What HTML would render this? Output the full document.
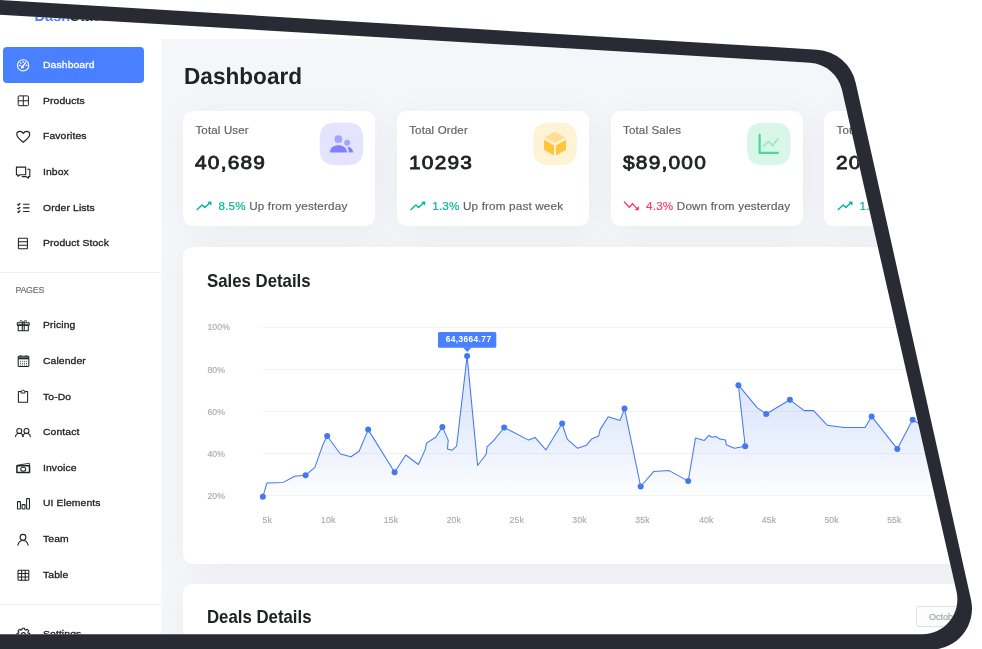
<!DOCTYPE html>
<html lang="en"><head><meta charset="utf-8"><title>DashStack Dashboard</title>
<style>
html,body{margin:0;padding:0;background:#fff;}
body{width:982px;height:649px;overflow:hidden;position:relative;font-family:"Liberation Sans",sans-serif;}
#screen{position:absolute;left:0;top:0;width:982px;height:649px;overflow:hidden;background:#f5f6fa;clip-path:path("M-100.00 8.78 L809.90 62.65 A35.00 35.00 0 0 1 841.95 89.79 L956.52 591.41 A35.00 35.00 0 0 1 922.40 634.20 L-100.00 634.20 Z");}
.t{position:absolute;white-space:nowrap;}
#sidebar{position:absolute;left:0;top:0;width:161.200px;height:649px;background:#fff;}
#topbar{position:absolute;left:0;top:0;width:982px;height:38.700px;background:#fff;}
.active{position:absolute;left:3.400px;top:46.800px;width:140.600px;height:35.900px;border-radius:4px;background:#4880ff;}
.hr{position:absolute;left:0;width:161.200px;height:1px;background:#eeeeef;}
.card{position:absolute;background:#fff;border-radius:9.500px;box-shadow:4px 4px 40px rgba(0,0,0,0.045);}
svg{position:absolute;left:0;top:0;}
</style></head><body>
<div id="screen">
<div id="topbar"></div>
<div id="main">
<div class="t " style="left:183.70px;top:60.79px;font-size:23.25px;line-height:30.23px;color:#202224;font-weight:700;transform:skewX(0.05deg) scaleX(0.972);transform-origin:0 50%;">Dashboard</div>
<div class="card" style="left:183.2px;top:111px;width:191.800px;height:115px"></div>
<div class="t " style="left:195.40px;top:122.83px;font-size:11.50px;line-height:14.95px;color:#606163;font-weight:400;letter-spacing:0.17px;-webkit-text-stroke:0.18px #606163;">Total User</div>
<div class="t " style="left:195.10px;top:151.15px;font-size:19.00px;line-height:24.70px;color:#202224;font-weight:400;letter-spacing:1.1px;transform:scaleX(1.1);transform-origin:0 50%;-webkit-text-stroke:0.8px #202224;">40,689</div>
<div class="t " style="left:218.50px;top:197.50px;font-size:11.70px;line-height:15.21px;color:#606163;font-weight:400;letter-spacing:0.16px;-webkit-text-stroke:0.18px;"><span style="color:#00b69b">8.5%</span> Up from yesterday</div>
<div class="card" style="left:397.0px;top:111px;width:191.800px;height:115px"></div>
<div class="t " style="left:409.20px;top:122.83px;font-size:11.50px;line-height:14.95px;color:#606163;font-weight:400;letter-spacing:0.17px;-webkit-text-stroke:0.18px #606163;">Total Order</div>
<div class="t " style="left:408.90px;top:151.15px;font-size:19.00px;line-height:24.70px;color:#202224;font-weight:400;letter-spacing:1.1px;transform:scaleX(1.1);transform-origin:0 50%;-webkit-text-stroke:0.8px #202224;">10293</div>
<div class="t " style="left:432.30px;top:197.50px;font-size:11.70px;line-height:15.21px;color:#606163;font-weight:400;letter-spacing:0.16px;-webkit-text-stroke:0.18px;"><span style="color:#00b69b">1.3%</span> Up from past week</div>
<div class="card" style="left:610.8px;top:111px;width:191.800px;height:115px"></div>
<div class="t " style="left:623.00px;top:122.83px;font-size:11.50px;line-height:14.95px;color:#606163;font-weight:400;letter-spacing:0.17px;-webkit-text-stroke:0.18px #606163;">Total Sales</div>
<div class="t " style="left:622.70px;top:151.15px;font-size:19.00px;line-height:24.70px;color:#202224;font-weight:400;letter-spacing:1.1px;transform:scaleX(1.1);transform-origin:0 50%;-webkit-text-stroke:0.8px #202224;">$89,000</div>
<div class="t " style="left:646.10px;top:197.50px;font-size:11.70px;line-height:15.21px;color:#606163;font-weight:400;letter-spacing:0.16px;-webkit-text-stroke:0.18px;"><span style="color:#f93c65">4.3%</span> Down from yesterday</div>
<div class="card" style="left:824.3px;top:111px;width:191.800px;height:115px"></div>
<div class="t " style="left:836.50px;top:122.83px;font-size:11.50px;line-height:14.95px;color:#606163;font-weight:400;letter-spacing:0.17px;-webkit-text-stroke:0.18px #606163;">Total Pending</div>
<div class="t " style="left:836.20px;top:151.15px;font-size:19.00px;line-height:24.70px;color:#202224;font-weight:400;letter-spacing:1.1px;transform:scaleX(1.1);transform-origin:0 50%;-webkit-text-stroke:0.8px #202224;">2040</div>
<div class="t " style="left:859.60px;top:197.50px;font-size:11.70px;line-height:15.21px;color:#606163;font-weight:400;letter-spacing:0.16px;-webkit-text-stroke:0.18px;"><span style="color:#00b69b">1.8%</span> Up from yesterday</div>
<div class="card" style="left:183.200px;top:247.300px;width:860px;height:316.400px"></div>
<div class="card" style="left:183.200px;top:584px;width:860px;height:200px"></div>
<div class="t " style="left:207.40px;top:269.80px;font-size:17.70px;line-height:23.01px;color:#202224;font-weight:700;transform:scaleX(0.949);transform-origin:0 50%;">Sales Details</div>
<div class="t " style="left:207.40px;top:605.79px;font-size:17.70px;line-height:23.01px;color:#202224;font-weight:700;transform:scaleX(0.949);transform-origin:0 50%;">Deals Details</div>
<div style="position:absolute;left:916.200px;top:606.200px;width:80px;height:20.500px;box-sizing:border-box;border:0.600px solid #e0e0e0;border-radius:3px;background:#fcfdfd"></div>
<div class="t " style="left:928.90px;top:611.75px;font-size:9.00px;line-height:11.70px;color:#a6a7aa;font-weight:400;-webkit-text-stroke:0.2px #a6a7aa;">October</div>
<svg width="982" height="649" viewBox="0 0 982 649">
<defs><linearGradient id="ag" x1="0" y1="356" x2="0" y2="497" gradientUnits="userSpaceOnUse"><stop offset="0" stop-color="#4379ee" stop-opacity="0.19"/><stop offset="0.45" stop-color="#4379ee" stop-opacity="0.15"/><stop offset="0.667" stop-color="#4379ee" stop-opacity="0.10"/><stop offset="0.88" stop-color="#4379ee" stop-opacity="0.04"/><stop offset="1" stop-color="#4379ee" stop-opacity="0"/></linearGradient></defs>
<g transform="translate(0.0 0)"><path d="M197.200 209.600L202.100 204.900L204.800 207.600L209.600 203.100" fill="none" stroke="#00b69b" stroke-width="1.400" stroke-linecap="round" stroke-linejoin="round"/><path d="M207.300 201.700L211.500 201.500L211.300 205.800Z" fill="#00b69b"/></g>
<g transform="translate(213.8 0)"><path d="M197.200 209.600L202.100 204.900L204.800 207.600L209.600 203.100" fill="none" stroke="#00b69b" stroke-width="1.400" stroke-linecap="round" stroke-linejoin="round"/><path d="M207.300 201.700L211.500 201.500L211.300 205.800Z" fill="#00b69b"/></g>
<g transform="translate(0.0 0)"><path d="M624.400 202.100L629.300 207.300L632.400 203.600L637 208.600" fill="none" stroke="#f93c65" stroke-width="1.400" stroke-linecap="round" stroke-linejoin="round"/><path d="M638.900 206L638.900 210.300L634.500 210.300Z" fill="#f93c65"/></g>
<g transform="translate(641.1 0)"><path d="M197.200 209.600L202.100 204.900L204.800 207.600L209.600 203.100" fill="none" stroke="#00b69b" stroke-width="1.400" stroke-linecap="round" stroke-linejoin="round"/><path d="M207.300 201.700L211.500 201.500L211.300 205.800Z" fill="#00b69b"/></g>
<path d="M363.20 143.85 L363.15 148.74 L363.00 151.27 L362.75 153.31 L362.39 155.05 L361.94 156.58 L361.38 157.94 L360.72 159.17 L359.95 160.26 L359.07 161.24 L358.08 162.10 L356.96 162.86 L355.72 163.51 L354.33 164.06 L352.78 164.51 L351.01 164.85 L348.94 165.10 L346.37 165.25 L341.40 165.30 L336.43 165.25 L333.86 165.10 L331.79 164.85 L330.02 164.51 L328.47 164.06 L327.08 163.51 L325.84 162.86 L324.72 162.10 L323.73 161.24 L322.85 160.26 L322.08 159.17 L321.42 157.94 L320.86 156.58 L320.41 155.05 L320.05 153.31 L319.80 151.27 L319.65 148.74 L319.60 143.85 L319.65 138.96 L319.80 136.43 L320.05 134.39 L320.41 132.65 L320.86 131.12 L321.42 129.76 L322.08 128.53 L322.85 127.44 L323.73 126.46 L324.72 125.60 L325.84 124.84 L327.08 124.19 L328.47 123.64 L330.02 123.19 L331.79 122.85 L333.86 122.60 L336.43 122.45 L341.40 122.40 L346.37 122.45 L348.94 122.60 L351.01 122.85 L352.78 123.19 L354.33 123.64 L355.72 124.19 L356.96 124.84 L358.08 125.60 L359.07 126.46 L359.95 127.44 L360.72 128.53 L361.38 129.76 L361.94 131.12 L362.39 132.65 L362.75 134.39 L363.00 136.43 L363.15 138.96Z" fill="#e5e4ff"/>
<path d="M576.90 143.95 L576.85 148.82 L576.70 151.34 L576.45 153.36 L576.09 155.09 L575.64 156.62 L575.08 157.98 L574.41 159.19 L573.64 160.28 L572.76 161.26 L571.77 162.12 L570.65 162.87 L569.41 163.52 L568.01 164.06 L566.45 164.51 L564.68 164.86 L562.61 165.10 L560.03 165.25 L555.05 165.30 L550.07 165.25 L547.49 165.10 L545.42 164.86 L543.65 164.51 L542.09 164.06 L540.69 163.52 L539.45 162.87 L538.33 162.12 L537.34 161.26 L536.46 160.28 L535.69 159.19 L535.02 157.98 L534.46 156.62 L534.01 155.09 L533.65 153.36 L533.40 151.34 L533.25 148.82 L533.20 143.95 L533.25 139.08 L533.40 136.56 L533.65 134.54 L534.01 132.81 L534.46 131.28 L535.02 129.92 L535.69 128.71 L536.46 127.62 L537.34 126.64 L538.33 125.78 L539.45 125.03 L540.69 124.38 L542.09 123.84 L543.65 123.39 L545.42 123.04 L547.49 122.80 L550.07 122.65 L555.05 122.60 L560.03 122.65 L562.61 122.80 L564.68 123.04 L566.45 123.39 L568.01 123.84 L569.41 124.38 L570.65 125.03 L571.77 125.78 L572.76 126.64 L573.64 127.62 L574.41 128.71 L575.08 129.92 L575.64 131.28 L576.09 132.81 L576.45 134.54 L576.70 136.56 L576.85 139.08Z" fill="#fff3d6"/>
<path d="M790.70 143.95 L790.65 148.82 L790.50 151.34 L790.25 153.36 L789.89 155.09 L789.44 156.62 L788.88 157.98 L788.21 159.19 L787.44 160.28 L786.56 161.26 L785.57 162.12 L784.45 162.87 L783.21 163.52 L781.81 164.06 L780.25 164.51 L778.48 164.86 L776.41 165.10 L773.83 165.25 L768.85 165.30 L763.87 165.25 L761.29 165.10 L759.22 164.86 L757.45 164.51 L755.89 164.06 L754.49 163.52 L753.25 162.87 L752.13 162.12 L751.14 161.26 L750.26 160.28 L749.49 159.19 L748.82 157.98 L748.26 156.62 L747.81 155.09 L747.45 153.36 L747.20 151.34 L747.05 148.82 L747.00 143.95 L747.05 139.08 L747.20 136.56 L747.45 134.54 L747.81 132.81 L748.26 131.28 L748.82 129.92 L749.49 128.71 L750.26 127.62 L751.14 126.64 L752.13 125.78 L753.25 125.03 L754.49 124.38 L755.89 123.84 L757.45 123.39 L759.22 123.04 L761.29 122.80 L763.87 122.65 L768.85 122.60 L773.83 122.65 L776.41 122.80 L778.48 123.04 L780.25 123.39 L781.81 123.84 L783.21 124.38 L784.45 125.03 L785.57 125.78 L786.56 126.64 L787.44 127.62 L788.21 128.71 L788.88 129.92 L789.44 131.28 L789.89 132.81 L790.25 134.54 L790.50 136.56 L790.65 139.08Z" fill="#d9f7e8"/>
<path d="M1004.45 143.95 L1004.40 148.82 L1004.25 151.34 L1004.00 153.36 L1003.64 155.09 L1003.19 156.62 L1002.63 157.98 L1001.96 159.19 L1001.19 160.28 L1000.31 161.26 L999.32 162.12 L998.20 162.87 L996.96 163.52 L995.56 164.06 L994.00 164.51 L992.23 164.86 L990.16 165.10 L987.58 165.25 L982.60 165.30 L977.62 165.25 L975.04 165.10 L972.97 164.86 L971.20 164.51 L969.64 164.06 L968.24 163.52 L967.00 162.87 L965.88 162.12 L964.89 161.26 L964.01 160.28 L963.24 159.19 L962.57 157.98 L962.01 156.62 L961.56 155.09 L961.20 153.36 L960.95 151.34 L960.80 148.82 L960.75 143.95 L960.80 139.08 L960.95 136.56 L961.20 134.54 L961.56 132.81 L962.01 131.28 L962.57 129.92 L963.24 128.71 L964.01 127.62 L964.89 126.64 L965.88 125.78 L967.00 125.03 L968.24 124.38 L969.64 123.84 L971.20 123.39 L972.97 123.04 L975.04 122.80 L977.62 122.65 L982.60 122.60 L987.58 122.65 L990.16 122.80 L992.23 123.04 L994.00 123.39 L995.56 123.84 L996.96 124.38 L998.20 125.03 L999.32 125.78 L1000.31 126.64 L1001.19 127.62 L1001.96 128.71 L1002.63 129.92 L1003.19 131.28 L1003.64 132.81 L1004.00 134.54 L1004.25 136.56 L1004.40 139.08Z" fill="#ffded1"/>
<circle cx="338.400" cy="139.200" r="3.850" fill="#a5a3ff"/><circle cx="347.200" cy="142.800" r="2.950" fill="#a5a3ff"/>
<path d="M329.800 152.500 C329.800 142.700 347 142.700 347 152.500Z" fill="#8280ff"/>
<path d="M347.300 147.100 C350.500 146.600 353 149.200 353 152.500 L348.700 152.500 C348.700 150.400 348.300 148.500 347.300 147.100Z" fill="#8280ff"/>
<path d="M555 131.800L565.300 137.500L555 142.900L544.500 137.500Z" fill="#fede92"/><path d="M544 139.800L554 145.200L554 155.500L544 149.700Z" fill="#fec53d"/><path d="M556 145.200L566 139.800L566 149.700L556 155.500Z" fill="#fec53d"/>
<path d="M759.600 134.800V152.900H778" fill="none" stroke="#4ad991" stroke-width="2.200" stroke-linecap="round" stroke-linejoin="round"/><path d="M763.800 146L768.600 141.500L772.650 145.600L778 138.800" fill="none" stroke="#9fe9c3" stroke-width="1.800" stroke-linecap="round" stroke-linejoin="round"/>
<path d="M262.200 327.5H1000" stroke="#f2f2f3" stroke-width="1"/>
<path d="M262.200 369.5H1000" stroke="#f2f2f3" stroke-width="1"/>
<path d="M262.200 411.5H1000" stroke="#f2f2f3" stroke-width="1"/>
<path d="M262.200 453.5H1000" stroke="#f2f2f3" stroke-width="1"/>
<path d="M262.200 495.5H1000" stroke="#f2f2f3" stroke-width="1"/>
<path d="M262.9 496.7 L266.9 483.1 L283.2 482.4 L294.7 476.3 L305.6 475.3 L315.0 467.2 L322.8 444.8 L327.2 436.0 L340.4 454.0 L350.9 456.7 L359.1 451.3 L368.2 429.6 L394.6 472.3 L405.8 455.0 L418.4 464.5 L425.1 449.9 L426.5 443.1 L436.0 437.0 L442.4 426.9 L448.2 440.1 L447.5 448.9 L452.2 450.2 L456.6 446.2 L467.1 356.1 L477.6 465.5 L486.3 454.0 L487.0 446.9 L493.8 440.4 L504.2 427.5 L528.6 440.1 L535.0 437.4 L545.9 449.9 L562.1 423.5 L567.2 439.1 L577.4 448.2 L586.5 445.2 L592.0 438.7 L598.7 436.0 L600.1 429.6 L608.2 416.7 L620.1 420.4 L624.5 408.6 L640.7 486.5 L653.6 471.6 L669.2 470.6 L688.2 481.1 L695.5 438.0 L704.3 440.4 L708.9 435.3 L711.8 437.2 L715.9 436.5 L719.9 439.1 L725.6 440.1 L726.2 444.8 L734.4 448.2 L745.2 446.2 L738.4 385.2 L757.4 407.9 L766.2 414.0 L789.9 399.8 L804.2 410.6 L813.6 410.6 L827.2 425.2 L844.1 427.5 L865.1 427.5 L871.6 416.4 L897.3 448.9 L912.6 419.8 L927.1 428.6 L950.0 440.0 L990.0 430.0 L990 497 L262.900 497Z" fill="url(#ag)"/>
<polyline points="262.9,496.7 266.9,483.1 283.2,482.4 294.7,476.3 305.6,475.3 315.0,467.2 322.8,444.8 327.2,436.0 340.4,454.0 350.9,456.7 359.1,451.3 368.2,429.6 394.6,472.3 405.8,455.0 418.4,464.5 425.1,449.9 426.5,443.1 436.0,437.0 442.4,426.9 448.2,440.1 447.5,448.9 452.2,450.2 456.6,446.2 467.1,356.1 477.6,465.5 486.3,454.0 487.0,446.9 493.8,440.4 504.2,427.5 528.6,440.1 535.0,437.4 545.9,449.9 562.1,423.5 567.2,439.1 577.4,448.2 586.5,445.2 592.0,438.7 598.7,436.0 600.1,429.6 608.2,416.7 620.1,420.4 624.5,408.6 640.7,486.5 653.6,471.6 669.2,470.6 688.2,481.1 695.5,438.0 704.3,440.4 708.9,435.3 711.8,437.2 715.9,436.5 719.9,439.1 725.6,440.1 726.2,444.8 734.4,448.2 745.2,446.2 738.4,385.2 757.4,407.9 766.2,414.0 789.9,399.8 804.2,410.6 813.6,410.6 827.2,425.2 844.1,427.5 865.1,427.5 871.6,416.4 897.3,448.9 912.6,419.8 927.1,428.6 950.0,440.0 990.0,430.0" fill="none" stroke="#4379ee" stroke-width="1.05" stroke-linejoin="round"/>
<circle cx="262.9" cy="496.7" r="3" fill="#4379ee"/>
<circle cx="305.6" cy="475.3" r="3" fill="#4379ee"/>
<circle cx="327.2" cy="436.0" r="3" fill="#4379ee"/>
<circle cx="368.2" cy="429.6" r="3" fill="#4379ee"/>
<circle cx="394.6" cy="472.3" r="3" fill="#4379ee"/>
<circle cx="442.4" cy="426.9" r="3" fill="#4379ee"/>
<circle cx="467.1" cy="356.1" r="3" fill="#4379ee"/>
<circle cx="504.2" cy="427.5" r="3" fill="#4379ee"/>
<circle cx="562.1" cy="423.5" r="3" fill="#4379ee"/>
<circle cx="624.5" cy="408.6" r="3" fill="#4379ee"/>
<circle cx="640.7" cy="486.5" r="3" fill="#4379ee"/>
<circle cx="688.2" cy="481.1" r="3" fill="#4379ee"/>
<circle cx="745.2" cy="446.2" r="3" fill="#4379ee"/>
<circle cx="738.4" cy="385.2" r="3" fill="#4379ee"/>
<circle cx="766.2" cy="414.0" r="3" fill="#4379ee"/>
<circle cx="789.9" cy="399.8" r="3" fill="#4379ee"/>
<circle cx="871.6" cy="416.4" r="3" fill="#4379ee"/>
<circle cx="897.3" cy="448.9" r="3" fill="#4379ee"/>
<circle cx="912.6" cy="419.8" r="3" fill="#4379ee"/>
<rect x="438.000" y="332.000" width="58.3" height="15.800" rx="1.600" fill="#4880ff"/><path d="M463.000 347.5L467.300 351.900L471.600 347.5Z" fill="#4880ff"/>
</svg>
<div class="t " style="left:207.40px;top:322.35px;font-size:8.70px;line-height:11.31px;color:#a9abad;font-weight:400;letter-spacing:0.15px;-webkit-text-stroke:0.15px #a9abad;">100%</div>
<div class="t " style="left:207.40px;top:364.54px;font-size:8.70px;line-height:11.31px;color:#a9abad;font-weight:400;letter-spacing:0.15px;-webkit-text-stroke:0.15px #a9abad;">80%</div>
<div class="t " style="left:207.40px;top:406.64px;font-size:8.70px;line-height:11.31px;color:#a9abad;font-weight:400;letter-spacing:0.15px;-webkit-text-stroke:0.15px #a9abad;">60%</div>
<div class="t " style="left:207.40px;top:448.75px;font-size:8.70px;line-height:11.31px;color:#a9abad;font-weight:400;letter-spacing:0.15px;-webkit-text-stroke:0.15px #a9abad;">40%</div>
<div class="t " style="left:207.40px;top:490.85px;font-size:8.70px;line-height:11.31px;color:#a9abad;font-weight:400;letter-spacing:0.15px;-webkit-text-stroke:0.15px #a9abad;">20%</div>
<div class="t " style="left:252.30px;top:514.55px;font-size:8.70px;line-height:11.31px;color:#a9abad;font-weight:400;width:30px;text-align:center;letter-spacing:0.1px;-webkit-text-stroke:0.15px #a9abad;">5k</div>
<div class="t " style="left:313.20px;top:514.55px;font-size:8.70px;line-height:11.31px;color:#a9abad;font-weight:400;width:30px;text-align:center;letter-spacing:0.1px;-webkit-text-stroke:0.15px #a9abad;">10k</div>
<div class="t " style="left:376.00px;top:514.55px;font-size:8.70px;line-height:11.31px;color:#a9abad;font-weight:400;width:30px;text-align:center;letter-spacing:0.1px;-webkit-text-stroke:0.15px #a9abad;">15k</div>
<div class="t " style="left:438.80px;top:514.55px;font-size:8.70px;line-height:11.31px;color:#a9abad;font-weight:400;width:30px;text-align:center;letter-spacing:0.1px;-webkit-text-stroke:0.15px #a9abad;">20k</div>
<div class="t " style="left:501.70px;top:514.55px;font-size:8.70px;line-height:11.31px;color:#a9abad;font-weight:400;width:30px;text-align:center;letter-spacing:0.1px;-webkit-text-stroke:0.15px #a9abad;">25k</div>
<div class="t " style="left:564.50px;top:514.55px;font-size:8.70px;line-height:11.31px;color:#a9abad;font-weight:400;width:30px;text-align:center;letter-spacing:0.1px;-webkit-text-stroke:0.15px #a9abad;">30k</div>
<div class="t " style="left:627.50px;top:514.55px;font-size:8.70px;line-height:11.31px;color:#a9abad;font-weight:400;width:30px;text-align:center;letter-spacing:0.1px;-webkit-text-stroke:0.15px #a9abad;">35k</div>
<div class="t " style="left:691.30px;top:514.55px;font-size:8.70px;line-height:11.31px;color:#a9abad;font-weight:400;width:30px;text-align:center;letter-spacing:0.1px;-webkit-text-stroke:0.15px #a9abad;">40k</div>
<div class="t " style="left:754.00px;top:514.55px;font-size:8.70px;line-height:11.31px;color:#a9abad;font-weight:400;width:30px;text-align:center;letter-spacing:0.1px;-webkit-text-stroke:0.15px #a9abad;">45k</div>
<div class="t " style="left:816.60px;top:514.55px;font-size:8.70px;line-height:11.31px;color:#a9abad;font-weight:400;width:30px;text-align:center;letter-spacing:0.1px;-webkit-text-stroke:0.15px #a9abad;">50k</div>
<div class="t " style="left:879.30px;top:514.55px;font-size:8.70px;line-height:11.31px;color:#a9abad;font-weight:400;width:30px;text-align:center;letter-spacing:0.1px;-webkit-text-stroke:0.15px #a9abad;">55k</div>
<div class="t " style="left:445.70px;top:333.61px;font-size:8.30px;line-height:10.79px;color:#ffffff;font-weight:700;letter-spacing:0.42px;">64,3664.77</div>
</div>
<div id="sidebar">
<div class="active"></div>
<div class="hr" style="top:271.800px"></div>
<div class="hr" style="top:603.900px"></div>
<div class="t " style="left:34.60px;top:7.27px;font-size:14.50px;line-height:18.85px;color:#202224;font-weight:700;"><span style="color:#4880ff">Dash</span>Stack</div>
<div class="t sb" style="left:43.30px;top:59.00px;font-size:9.70px;line-height:12.61px;color:#ffffff;font-weight:400;letter-spacing:0.1px;transform:scaleX(1.07);transform-origin:0 50%;-webkit-text-stroke:0.3px #ffffff;">Dashboard</div>
<div class="t sb" style="left:43.30px;top:94.65px;font-size:9.70px;line-height:12.61px;color:#202224;font-weight:400;letter-spacing:0.1px;transform:scaleX(1.07);transform-origin:0 50%;-webkit-text-stroke:0.3px #202224;">Products</div>
<div class="t sb" style="left:43.30px;top:130.29px;font-size:9.70px;line-height:12.61px;color:#202224;font-weight:400;letter-spacing:0.1px;transform:scaleX(1.07);transform-origin:0 50%;-webkit-text-stroke:0.3px #202224;">Favorites</div>
<div class="t sb" style="left:43.30px;top:165.94px;font-size:9.70px;line-height:12.61px;color:#202224;font-weight:400;letter-spacing:0.1px;transform:scaleX(1.07);transform-origin:0 50%;-webkit-text-stroke:0.3px #202224;">Inbox</div>
<div class="t sb" style="left:43.30px;top:201.59px;font-size:9.70px;line-height:12.61px;color:#202224;font-weight:400;letter-spacing:0.1px;transform:scaleX(1.07);transform-origin:0 50%;-webkit-text-stroke:0.3px #202224;">Order Lists</div>
<div class="t sb" style="left:43.30px;top:237.25px;font-size:9.70px;line-height:12.61px;color:#202224;font-weight:400;letter-spacing:0.1px;transform:scaleX(1.07);transform-origin:0 50%;-webkit-text-stroke:0.3px #202224;">Product Stock</div>
<div class="t sb" style="left:43.30px;top:319.49px;font-size:9.70px;line-height:12.61px;color:#202224;font-weight:400;letter-spacing:0.1px;transform:scaleX(1.07);transform-origin:0 50%;-webkit-text-stroke:0.3px #202224;">Pricing</div>
<div class="t sb" style="left:43.30px;top:354.99px;font-size:9.70px;line-height:12.61px;color:#202224;font-weight:400;letter-spacing:0.1px;transform:scaleX(1.07);transform-origin:0 50%;-webkit-text-stroke:0.3px #202224;">Calender</div>
<div class="t sb" style="left:43.30px;top:390.59px;font-size:9.70px;line-height:12.61px;color:#202224;font-weight:400;letter-spacing:0.1px;transform:scaleX(1.07);transform-origin:0 50%;-webkit-text-stroke:0.3px #202224;">To-Do</div>
<div class="t sb" style="left:43.30px;top:426.19px;font-size:9.70px;line-height:12.61px;color:#202224;font-weight:400;letter-spacing:0.1px;transform:scaleX(1.07);transform-origin:0 50%;-webkit-text-stroke:0.3px #202224;">Contact</div>
<div class="t sb" style="left:43.30px;top:461.89px;font-size:9.70px;line-height:12.61px;color:#202224;font-weight:400;letter-spacing:0.1px;transform:scaleX(1.07);transform-origin:0 50%;-webkit-text-stroke:0.3px #202224;">Invoice</div>
<div class="t sb" style="left:43.30px;top:497.49px;font-size:9.70px;line-height:12.61px;color:#202224;font-weight:400;letter-spacing:0.1px;transform:scaleX(1.07);transform-origin:0 50%;-webkit-text-stroke:0.3px #202224;">UI Elements</div>
<div class="t sb" style="left:43.30px;top:533.20px;font-size:9.70px;line-height:12.61px;color:#202224;font-weight:400;letter-spacing:0.1px;transform:scaleX(1.07);transform-origin:0 50%;-webkit-text-stroke:0.3px #202224;">Team</div>
<div class="t sb" style="left:43.30px;top:568.89px;font-size:9.70px;line-height:12.61px;color:#202224;font-weight:400;letter-spacing:0.1px;transform:scaleX(1.07);transform-origin:0 50%;-webkit-text-stroke:0.3px #202224;">Table</div>
<div class="t sb" style="left:43.30px;top:628.30px;font-size:9.70px;line-height:12.61px;color:#202224;font-weight:400;letter-spacing:0.1px;transform:scaleX(1.07);transform-origin:0 50%;-webkit-text-stroke:0.3px #202224;">Settings</div>
<div class="t " style="left:15.40px;top:284.78px;font-size:8.80px;line-height:11.44px;color:#727375;font-weight:400;letter-spacing:-0.2px;-webkit-text-stroke:0.2px #727375;">PAGES</div>
<svg width="162" height="649" viewBox="0 0 162 649"><g fill="none" stroke="#fff" stroke-width="1.1" stroke-linecap="round"><circle cx="23.1" cy="65.4" r="5.6"/><path d="M22.6 66.6 L25.6 62.6" stroke-width="1.4"/><circle cx="22.4" cy="67" r="1" /><path d="M19.3 65.4h.9M23.1 61.5v.9M20.4 62.7l.6.6M26 65.4h.9"/></g>
<g fill="none" stroke="#202224" stroke-width="1"><rect x="18.2" y="95.9" width="10.2" height="9.8" rx="0.8"/><path d="M23.3 95.9v9.8M18.2 100.8h10.2"/></g>
<path fill="none" stroke="#202224" stroke-width="1.15" stroke-linejoin="round" d="M23.25 142.2 C21 140.4 16.8 137.6 16.8 134.6 C16.8 132.6 18.3 131.4 19.9 131.4 C21.3 131.4 22.5 132.2 23.25 133.4 C24 132.2 25.2 131.4 26.6 131.4 C28.2 131.4 29.7 132.6 29.7 134.6 C29.7 137.6 25.5 140.4 23.25 142.2 Z"/>
<g fill="none" stroke="#202224" stroke-width="1.1" stroke-linejoin="round"><path d="M16.4 167.1h9.3v7.6h-5.6l-2.2 1.6v-1.6h-1.5z"/><path d="M27.2 169.3h2.6v7.3h-1.4v1.6l-2.2-1.6h-4.4"/></g>
<g fill="none" stroke="#202224" stroke-width="1.1"><path d="M23.1 204.2h6.4M23.1 207.9h6.4M23.1 211.5h6.4"/><path d="M17.4 204.3l1 .9 1.9-2M17.4 208l1 .9 1.9-2M17.4 211.6l1 .9 1.9-2" stroke-width="1.25"/></g>
<g fill="none" stroke="#202224" stroke-width="1.05"><rect x="18.4" y="238.3" width="9" height="10.5" rx="0.6"/><path d="M18.4 241.8h9M18.4 245.3h9"/></g>
<g fill="none" stroke="#202224" stroke-width="1.05" stroke-linejoin="round"><rect x="17.3" y="322.7" width="11.9" height="2.4"/><rect x="18.2" y="325.1" width="10.1" height="5.7"/><path d="M22.3 322.7v8.1M24.2 322.7v8.1"/><path d="M23.25 322.5c-1-2.2-3.6-2.4-3.4-0.9M23.25 322.5c1-2.2 3.6-2.4 3.4-0.9" stroke-width="0.95"/></g>
<g fill="none" stroke="#202224" stroke-width="1.05"><rect x="18.2" y="356.2" width="10.6" height="10.3" rx="0.8"/><path d="M18.2 358.3h10.6" stroke-width="2"/><path d="M20.8 355.1v1.4M26.2 355.1v1.4"/><circle cx="20.6" cy="361.3" r="0.5" fill="#202224" stroke="none"/><circle cx="22.6" cy="361.3" r="0.5" fill="#202224" stroke="none"/><circle cx="24.5" cy="361.3" r="0.5" fill="#202224" stroke="none"/><circle cx="26.4" cy="361.3" r="0.5" fill="#202224" stroke="none"/><circle cx="20.6" cy="363.2" r="0.5" fill="#202224" stroke="none"/><circle cx="22.6" cy="363.2" r="0.5" fill="#202224" stroke="none"/><circle cx="24.5" cy="363.2" r="0.5" fill="#202224" stroke="none"/><circle cx="26.4" cy="363.2" r="0.5" fill="#202224" stroke="none"/><circle cx="20.6" cy="365.0" r="0.5" fill="#202224" stroke="none"/><circle cx="22.6" cy="365.0" r="0.5" fill="#202224" stroke="none"/><circle cx="24.5" cy="365.0" r="0.5" fill="#202224" stroke="none"/><circle cx="26.4" cy="365.0" r="0.5" fill="#202224" stroke="none"/></g>
<g fill="none" stroke="#202224" stroke-width="1.05" stroke-linejoin="round"><path d="M21 391.5h-2.6v10.8h9.2v-10.8h-2.6"/><path d="M21 393v-1.9h1.2c0-1.4 2.2-1.4 2.2 0h0.6v1.9z" stroke-width="0.95"/></g>
<g fill="none" stroke="#202224" stroke-width="1.05" stroke-linecap="round"><circle cx="19.3" cy="430.9" r="2.5"/><path d="M15.4 436.6c.6-2.6 2.2-3.3 3.9-3.3s3.300.7 3.900 3.300"/><circle cx="26.500" cy="430.900" r="2.500"/><path d="M22.600 436.600c.6-2.600 2.200-3.300 3.900-3.300s3.300.7 3.900 3.300"/></g>
<g fill="none" stroke="#202224" stroke-width="1.2" stroke-linejoin="round"><rect x="16.900" y="465.7" width="12.6" height="6.9" stroke-width="1.500"/><ellipse cx="23.200" cy="469.150" rx="2.500" ry="2.000" stroke-width="1.05"/><path d="M17.400 465.200l12-1.900v2" stroke-width="0.900"/></g>
<g fill="none" stroke="#202224" stroke-width="1.050"><rect x="17.500" y="501.600" width="2.900" height="7.300" rx=".5"/><rect x="22.100" y="504.600" width="2.900" height="4.300" rx=".5"/><rect x="26.600" y="498.600" width="2.900" height="10.300" rx=".5"/></g>
<g fill="none" stroke="#202224" stroke-width="1.100" stroke-linecap="round"><circle cx="23" cy="537.300" r="2.900"/><path d="M17.900 545.200c.7-3.400 2.800-4.700 5.100-4.700s4.400 1.300 5.100 4.700"/></g>
<g fill="none" stroke="#202224" stroke-width="1.050"><rect x="18" y="570.200" width="10.800" height="10" rx=".6"/><path d="M21.600 570.200v10M25.200 570.200v10M18 573.500h10.800M18 576.900h10.800"/></g>
<g fill="none" stroke="#202224" stroke-width="1.050" stroke-linejoin="round"><path d="M29.78 633.36 L29.78 635.84 L28.21 635.98 L27.77 637.02 L28.79 638.23 L27.03 639.99 L25.82 638.97 L24.78 639.41 L24.64 640.98 L22.16 640.98 L22.02 639.41 L20.98 638.97 L19.77 639.99 L18.01 638.23 L19.03 637.02 L18.59 635.98 L17.02 635.84 L17.02 633.36 L18.59 633.22 L19.03 632.18 L18.01 630.97 L19.77 629.21 L20.98 630.23 L22.02 629.79 L22.16 628.22 L24.64 628.22 L24.78 629.79 L25.82 630.23 L27.03 629.21 L28.79 630.97 L27.77 632.18 L28.21 633.22Z"/><circle cx="23.4" cy="634.6" r="2.100"/></g></svg>
</div>
</div>
<svg width="982" height="649" viewBox="0 0 982 649"><path fill-rule="evenodd" fill="#282b33" d="M-100.00 -6.08 L817.17 49.68 A42.00 42.00 0 0 1 855.62 82.46 L971.01 599.67 A41.00 41.00 0 0 1 930.99 649.60 L-100.00 649.60 Z M-100.00 8.78 L809.90 62.65 A35.00 35.00 0 0 1 841.95 89.79 L956.52 591.41 A35.00 35.00 0 0 1 922.40 634.20 L-100.00 634.20 Z"/></svg>
</body></html>
